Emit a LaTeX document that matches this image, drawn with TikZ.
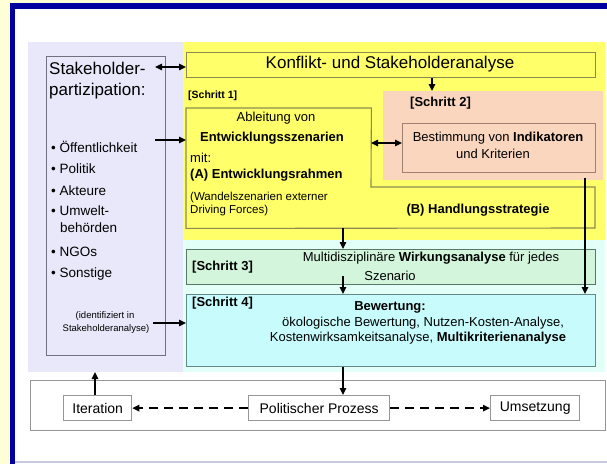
\documentclass[tikz,border=0pt]{standalone}
\usepackage{fontspec}
\setmainfont{Liberation Sans}
\usetikzlibrary{arrows.meta}
\definecolor{bgyel}{RGB}{255,255,213}
\definecolor{frameblue}{RGB}{0,0,160}
\definecolor{lav}{RGB}{232,232,250}
\definecolor{yel}{RGB}{255,255,105}
\definecolor{salmon}{RGB}{250,214,190}
\definecolor{cyreg}{RGB}{226,255,248}
\definecolor{sthreefill}{RGB}{210,245,220}
\definecolor{sfourfill}{RGB}{200,252,252}
\definecolor{olive}{RGB}{140,140,80}
\definecolor{brownline}{RGB}{160,128,112}
\definecolor{greenline}{RGB}{90,120,105}
\definecolor{tealline}{RGB}{100,135,135}
\definecolor{greyline}{RGB}{112,112,128}
\definecolor{botline}{RGB}{150,150,150}
\definecolor{lavline}{RGB}{200,200,225}
\tikzset{
  ybox/.style={draw=olive,line width=1.1pt,inner sep=0pt,anchor=north west},
  gbox/.style={draw=botline,line width=1.3pt,fill=white,inner sep=0pt,anchor=north west},
  arr/.style={-{Triangle[length=7pt,width=6.5pt]},line width=1.4pt},
  barr/.style={{Triangle[length=7pt,width=6.5pt]}-{Triangle[length=7pt,width=6.5pt]},line width=1.4pt},
  darr/.style={arr,dash pattern=on 9pt off 6pt},
  txt/.style={inner sep=0pt,font=\fontsize{13}{15}\selectfont},
  btxt/.style={inner sep=0pt,font=\fontsize{13}{15}\selectfont\bfseries},
  stxt/.style={inner sep=0pt,font=\fontsize{11.5}{13}\selectfont},
  tiny/.style={inner sep=0pt,font=\fontsize{9.5}{11}\selectfont},
  bul/.style={inner sep=0pt,anchor=west,font=\fontsize{13.5}{15}\selectfont},
  big/.style={inner sep=0pt,font=\fontsize{17}{20}\selectfont},
}
\begin{document}
\begin{tikzpicture}[x=1pt,y=-1pt]
\useasboundingbox (0,0) rectangle (607,464);
% background and frame
\fill[bgyel] (0,0) rectangle (607,464);
\fill[frameblue] (10,3) rectangle (607,464);
\fill[white] (15,9) rectangle (607,464);
\fill[lavline] (15,461) rectangle (607,463);
% regions
\fill[lav] (28,42) rectangle (183,372);
\fill[yel] (183,42) rectangle (605,240);
\fill[salmon] (383,91) rectangle (603,180);
\fill[cyreg] (183,240) rectangle (605,372);
% stakeholder box
\node[draw=greyline,line width=1.1pt,inner sep=0pt,anchor=north west,minimum width=119pt,minimum height=299pt] (stake) at (46,56) {};
\node[big,anchor=west] (sh1) at (49,68) {Stakeholder-};
\node[big,anchor=west] (sh2) at (49,91) {partizipation:};
\node[bul] (b1) at (51,147) {\textbullet\ Öffentlichkeit};
\node[bul] (b2) at (51,169) {\textbullet\ Politik};
\node[bul] (b3) at (51,191) {\textbullet\ Akteure};
\node[bul] (b4) at (51,211) {\textbullet\ Umwelt-};
\node[bul] (b4b) at (60,228) {behörden};
\node[bul] (b5) at (51,252) {\textbullet\ NGOs};
\node[bul] (b6) at (51,274) {\textbullet\ Sonstige};
\node[tiny] (id1) at (105,316) {(identifiziert in};
\node[tiny] (id2) at (106,329) {Stakeholderanalyse)};
% Konflikt box
\node[ybox,minimum width=409pt,minimum height=25pt] (konf) at (186,52) {};
\node[big] (konft) at (390,64) {Konflikt- und Stakeholderanalyse};
% Schritt 1
\node[inner sep=0pt,font=\fontsize{10.5}{12}\selectfont\bfseries,anchor=west] (s1lab) at (188,96) {[Schritt 1]};
\node[inner sep=0pt,anchor=north west,minimum width=185pt,minimum height=120pt] (s1) at (186,108) {};
\draw[olive,line width=1.1pt] (s1.north west) -- (s1.north east) -- (371,187) -- (595,187) -- (595,228) -- (s1.south west) -- cycle;
\node[txt] (s1a) at (276,118) {Ableitung von};
\node[btxt] (s1b) at (272,138) {Entwicklungsszenarien};
\node[txt,anchor=west] (s1c) at (190,158) {mit:};
\node[btxt,anchor=west] (s1d) at (190,175) {(A) Entwicklungsrahmen};
\node[stxt,anchor=west] (s1e) at (190,198) {(Wandelszenarien externer};
\node[stxt,anchor=west] (s1f) at (190,211) {Driving Forces)};
\node[btxt] (hs) at (478,210) {(B) Handlungsstrategie};
% Schritt 2
\node[btxt,anchor=west] (s2lab) at (410,103) {[Schritt 2]};
\node[draw=brownline,line width=1.1pt,inner sep=0pt,anchor=north west,minimum width=193pt,minimum height=49pt] (s2) at (402,123) {};
\node[txt] (s2a) at (498,138) {Bestimmung von \textbf{Indikatoren}};
\node[txt] (s2b) at (493,154) {und Kriterien};
% Schritt 3
\node[draw=greenline,line width=1.1pt,fill=sthreefill,inner sep=0pt,anchor=north west,minimum width=409pt,minimum height=35pt] (s3) at (186,249) {};
\node[btxt,anchor=west] (s3lab) at (192,267) {[Schritt 3]};
\node[txt] (s3a) at (431,258) {Multidisziplinäre \textbf{Wirkungsanalyse} für jedes};
\node[txt] (s3b) at (390,276) {Szenario};
% Schritt 4
\node[draw=tealline,line width=1.1pt,fill=sfourfill,inner sep=0pt,anchor=north west,minimum width=409pt,minimum height=72pt] (s4) at (186,294) {};
\node[btxt,anchor=west] (s4lab) at (192,303) {[Schritt 4]};
\node[btxt] (s4a) at (390,307) {Bewertung:};
\node[txt] (s4b) at (423,323) {ökologische Bewertung, Nutzen-Kosten-Analyse,};
\node[txt] (s4c) at (418,338) {Kostenwirksamkeitsanalyse, \textbf{Multikriterienanalyse}};
% bottom
\node[gbox,minimum width=575pt,minimum height=50pt] (bot) at (30,380) {};
\node[gbox,minimum width=68pt,minimum height=25pt,font=\fontsize{14}{16}\selectfont] (iter) at (63,395) {Iteration};
\node[gbox,minimum width=141pt,minimum height=25pt,font=\fontsize{14}{16}\selectfont] (pol) at (248,395) {Politischer Prozess};
\node[gbox,minimum width=89pt,minimum height=25pt,font=\fontsize{14}{16}\selectfont] (ums) at (490,395) {Umsetzung};
% connector coordinates
\coordinate (ca) at (155,67);
\coordinate (cb) at (155,140);
\coordinate (cc) at (153,323);
\coordinate (cd) at (432,91);
\coordinate (ce) at (585,178);
\coordinate (cf) at (343,276);
\coordinate (cg) at (95,372);
% connectors
\draw[barr] (ca) -- (ca -| konf.west);
\draw[arr] (cb) -- (cb -| s1.west);
\draw[arr] (cc) -- (cc -| s4.west);
\draw[arr] (konf.south -| cd) -- (cd);
\draw[barr] (371,143) -- (s2.west |- 0,143);
\draw[arr] (ce) -- (ce |- s4.north);
\draw[arr] (s1.south -| cf) -- (cf |- s3.north);
\draw[arr] (cf) -- (cf |- s4.north);
\draw[arr] (s4.south -| cf) -- (cf |- pol.north);
\draw[arr] (iter.north -| cg) -- (cg);
\draw[darr] (pol.west) -- (iter.east);
\draw[darr] (pol.east) -- (ums.west);
\end{tikzpicture}
\end{document}
